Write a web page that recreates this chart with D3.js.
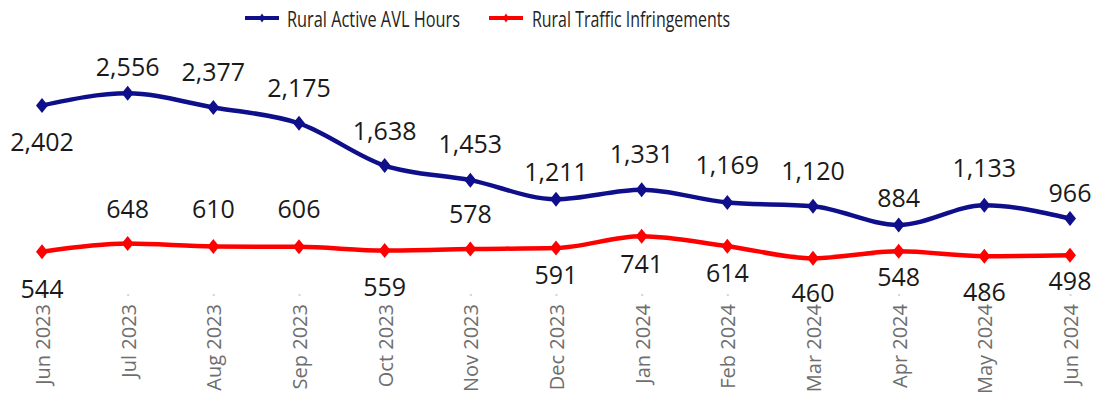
<!DOCTYPE html>
<html>
<head>
<meta charset="utf-8">
<script src="https://cdn.jsdelivr.net/npm/d3@7"></script>
<style>
  html, body { margin: 0; padding: 0; background: #fff; }
  svg { display: block; font-family: "Open Sans", "Noto Sans", sans-serif; }
</style>
</head>
<body>
<svg id="chart" width="1096" height="396"></svg>
<script>
// Monthly figures, Jun 2023 – Jun 2024
const months = ["Jun 2023", "Jul 2023", "Aug 2023", "Sep 2023", "Oct 2023", "Nov 2023",
                "Dec 2023", "Jan 2024", "Feb 2024", "Mar 2024", "Apr 2024", "May 2024", "Jun 2024"];
const avlHours = [2402, 2556, 2377, 2175, 1638, 1453, 1211, 1331, 1169, 1120, 884, 1133, 966];
const infringements = [544, 648, 610, 606, 559, 578, 591, 741, 614, 460, 548, 486, 498];
const seriesNames = ["Rural Active AVL Hours", "Rural Traffic Infringements"];

// Data-label placement: baseline offset from the marker (negative = above)
const avlLabelDy = [46, -17, -26, -26, -26, -27, -18, -27, -28, -26, -18, -28, -16];
const infLabelDy = [46, -26, -28, -29, 45, -26, 36, 37, 36, 44, 35, 45, 35];

const colors = ["#0f0f8c", "#ff0000"];

const svg = d3.select("#chart");

const x = d3.scalePoint().domain(months).range([42, 1070]);
const y = d3.scaleLinear().domain([0, 3000]).range([294.5, 58.4]);

// Axis: rotated month labels, faint tick dots
const axis = d3.axisBottom(x).tickSize(0).tickPadding(0);
const gx = svg.append("g").attr("transform", "translate(0,294)").call(axis);
gx.select(".domain").remove();
gx.selectAll(".tick").append("rect")
  .attr("x", -1).attr("y", 0).attr("width", 2).attr("height", 2)
  .attr("fill", "#d4d4d4");
gx.selectAll(".tick text")
  .attr("fill", "#6e6e6e")
  .attr("font-size", "20px")
  .attr("font-family", "'Open Sans', sans-serif")
  .attr("text-anchor", "end")
  .attr("dy", null)
  .attr("transform", "rotate(-90)")
  .attr("x", -10)
  .attr("y", 7.5);

const line = d3.line()
  .x((d, i) => x(months[i]))
  .y(d => y(d))
  .curve(d3.curveMonotoneX);

function diamond(w, h) {
  return `M0,${-h}L${w},0L0,${h}L${-w},0Z`;
}

function drawSeries(values, color, labelDy) {
  const g = svg.append("g");
  g.append("path")
    .datum(values)
    .attr("fill", "none")
    .attr("stroke", color)
    .attr("stroke-width", 4.5)
    .attr("stroke-linejoin", "round")
    .attr("d", line);
  g.selectAll("path.marker")
    .data(values)
    .join("path")
    .attr("class", "marker")
    .attr("d", diamond(6, 7.5))
    .attr("fill", color)
    .attr("transform", (d, i) => `translate(${x(months[i])},${y(d)})`);
  g.selectAll("text")
    .data(values)
    .join("text")
    .attr("x", (d, i) => x(months[i]))
    .attr("y", (d, i) => y(d) + labelDy[i])
    .attr("text-anchor", "middle")
    .attr("font-size", "25px")
    .attr("fill", "#1a1a1a")
    .text(d => d3.format(",")(d));
}

drawSeries(avlHours, colors[0], avlLabelDy);
drawSeries(infringements, colors[1], infLabelDy);

// Legend
const legendItems = [
  { name: seriesNames[0], color: colors[0], x0: 245, tx: 287, len: 173 },
  { name: seriesNames[1], color: colors[1], x0: 489, tx: 532, len: 198 }
];
const lg = svg.append("g");
legendItems.forEach(it => {
  lg.append("line")
    .attr("x1", it.x0).attr("x2", it.x0 + 34)
    .attr("y1", 18).attr("y2", 18)
    .attr("stroke", it.color).attr("stroke-width", 4);
  lg.append("path")
    .attr("d", diamond(3, 4.5))
    .attr("fill", it.color)
    .attr("transform", `translate(${it.x0 + 17},18)`);
  lg.append("text")
    .attr("x", it.tx).attr("y", 26.5)
    .attr("font-size", "21px")
    .attr("fill", "#252423")
    .attr("textLength", it.len)
    .attr("lengthAdjust", "spacingAndGlyphs")
    .text(it.name);
});
</script>
</body>
</html>
